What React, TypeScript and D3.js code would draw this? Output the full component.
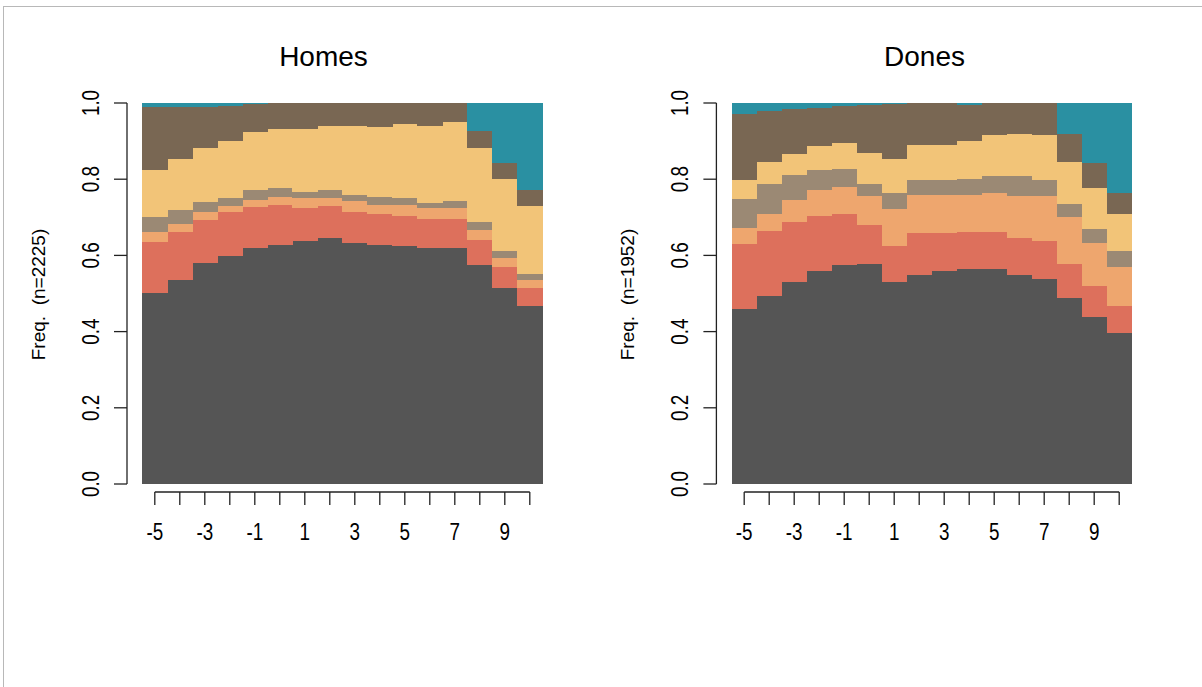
import React from "react";
import * as d3 from "d3";

// Time positions along the sequence (x axis)
const timePoints = [-5, -4, -3, -2, -1, 0, 1, 2, 3, 4, 5, 6, 7, 8, 9, 10];

// State order, bottom to top of every stacked column
const stateKeys = ["s1", "s2", "s3", "s4", "s5", "s6", "s7"];
const stateColors = ["#555555", "#DD705C", "#EEA66E", "#9B8974", "#F2C478", "#796753", "#2A90A2"];

// Homes (n = 2225): state proportions per time point
const homesS1 = [0.502, 0.535, 0.581, 0.599, 0.619, 0.628, 0.637, 0.646, 0.632, 0.628, 0.624, 0.619, 0.619, 0.574, 0.514, 0.468];
const homesS2 = [0.134, 0.126, 0.111, 0.114, 0.107, 0.105, 0.088, 0.084, 0.081, 0.081, 0.080, 0.077, 0.077, 0.066, 0.055, 0.046];
const homesS3 = [0.025, 0.021, 0.021, 0.016, 0.020, 0.021, 0.025, 0.021, 0.029, 0.024, 0.029, 0.029, 0.029, 0.027, 0.025, 0.021];
const homesS4 = [0.039, 0.036, 0.028, 0.022, 0.026, 0.022, 0.017, 0.021, 0.017, 0.021, 0.018, 0.013, 0.017, 0.021, 0.017, 0.017];
const homesS5 = [0.123, 0.134, 0.140, 0.148, 0.151, 0.156, 0.165, 0.168, 0.181, 0.182, 0.194, 0.202, 0.207, 0.193, 0.190, 0.178];
const homesS6 = [0.166, 0.138, 0.109, 0.094, 0.074, 0.068, 0.068, 0.060, 0.060, 0.064, 0.055, 0.060, 0.051, 0.046, 0.042, 0.042];
const homesS7 = [0.011, 0.010, 0.010, 0.007, 0.003, 0, 0, 0, 0, 0, 0, 0, 0, 0.073, 0.157, 0.228];

// Dones (n = 1952): state proportions per time point
const donesS1 = [0.459, 0.493, 0.530, 0.560, 0.574, 0.577, 0.531, 0.548, 0.560, 0.564, 0.564, 0.548, 0.539, 0.489, 0.438, 0.396];
const donesS2 = [0.170, 0.170, 0.158, 0.144, 0.135, 0.102, 0.094, 0.110, 0.098, 0.098, 0.098, 0.098, 0.098, 0.088, 0.081, 0.072];
const donesS3 = [0.042, 0.045, 0.058, 0.068, 0.071, 0.076, 0.096, 0.101, 0.101, 0.097, 0.101, 0.109, 0.118, 0.123, 0.114, 0.101];
const donesS4 = [0.077, 0.080, 0.064, 0.051, 0.047, 0.033, 0.042, 0.038, 0.038, 0.042, 0.046, 0.054, 0.042, 0.034, 0.037, 0.043];
const donesS5 = [0.050, 0.056, 0.055, 0.063, 0.067, 0.082, 0.089, 0.093, 0.093, 0.098, 0.106, 0.110, 0.118, 0.110, 0.106, 0.097];
const donesS6 = [0.173, 0.134, 0.118, 0.101, 0.098, 0.124, 0.145, 0.110, 0.110, 0.097, 0.085, 0.081, 0.085, 0.075, 0.067, 0.054];
const donesS7 = [0.029, 0.022, 0.017, 0.013, 0.008, 0.006, 0.003, 0, 0, 0.004, 0, 0, 0, 0.081, 0.157, 0.237];

const yTicks = [0, 0.2, 0.4, 0.6, 0.8, 1.0];
const xTickLabels = [-5, -3, -1, 1, 3, 5, 7, 9];

const panels = [
  { title: "Homes", n: 2225, series: [homesS1, homesS2, homesS3, homesS4, homesS5, homesS6, homesS7], left: 142.3, titleX: 323.5 },
  { title: "Dones", n: 1952, series: [donesS1, donesS2, donesS3, donesS4, donesS5, donesS6, donesS7], left: 731.7, titleX: 924.5 },
];

const FONT = "'Liberation Sans', Arial, sans-serif";
const TOP = 103;
const BOTTOM = 484;
const PLOT_W = 400;

function Panel({ panel }: { panel: (typeof panels)[number] }) {
  const rows = timePoints.map((t, i) => {
    const row: Record<string, number> = { t };
    stateKeys.forEach((k, j) => (row[k] = panel.series[j][i]));
    return row;
  });
  const stacked = d3.stack<Record<string, number>>().keys(stateKeys)(rows);

  const x = d3
    .scaleBand<number>()
    .domain(timePoints)
    .range([panel.left, panel.left + PLOT_W])
    .paddingInner(0)
    .paddingOuter(0);
  const y = d3.scaleLinear().domain([0, 1]).range([BOTTOM, TOP]);

  const axisX = panel.left - 15.3;
  const axisY = 492;
  const centers = timePoints.map((t) => (x(t) as number) + x.bandwidth() / 2);

  return (
    <g>
      <text x={panel.titleX} y={66} textAnchor="middle" fontFamily={FONT} fontSize={28} fill="#000">
        {panel.title}
      </text>

      {stacked.map((layer, li) => (
        <g key={stateKeys[li]} fill={stateColors[li]}>
          {layer.map((d, i) => {
            const h = y(d[0]) - y(d[1]);
            if (h <= 0) return null;
            return (
              <rect
                key={i}
                x={x(timePoints[i]) as number}
                y={y(d[1])}
                width={x.bandwidth() + 0.3}
                height={h}
                shapeRendering="crispEdges"
              />
            );
          })}
        </g>
      ))}

      {/* y axis */}
      <g stroke="#222" strokeWidth={1.3} fill="none">
        <line x1={axisX} x2={axisX} y1={y(0)} y2={y(1)} />
        {yTicks.map((v) => (
          <line key={v} x1={axisX} x2={axisX - 13} y1={y(v)} y2={y(v)} />
        ))}
      </g>
      {yTicks.map((v) => (
        <text
          key={v}
          transform={`translate(${axisX - 28.5},${y(v)}) rotate(-90) scale(0.82,1)`}
          textAnchor="middle"
          fontFamily={FONT}
          fontSize={23}
          fill="#000"
        >
          {d3.format(".1f")(v)}
        </text>
      ))}
      <text
        transform={`translate(${axisX - 82},${(TOP + BOTTOM) / 2 + 1}) rotate(-90)`}
        textAnchor="middle"
        fontFamily={FONT}
        fontSize={19}
        fill="#000"
        style={{ whiteSpace: "pre" }}
      >
        {`Freq.  (n=${panel.n})`}
      </text>

      {/* x axis */}
      <g stroke="#222" strokeWidth={1.3} fill="none">
        <line x1={centers[0]} x2={centers[centers.length - 1]} y1={axisY} y2={axisY} />
        {centers.map((c, i) => (
          <line key={i} x1={c} x2={c} y1={axisY} y2={axisY + 13} />
        ))}
      </g>
      {xTickLabels.map((t) => (
        <text
          key={t}
          transform={`translate(${(x(t) as number) + x.bandwidth() / 2},539.5) scale(0.82,1)`}
          textAnchor="middle"
          fontFamily={FONT}
          fontSize={23}
          fill="#000"
        >
          {t}
        </text>
      ))}
    </g>
  );
}

export default function App() {
  return (
    <svg
      width={1202}
      height={687}
      style={{ position: "absolute", left: 0, top: 0, background: "#fff" }}
    >
      <rect x={0} y={0} width={1202} height={687} fill="#fff" />
      <rect x={3.5} y={6.5} width={1300} height={800} fill="none" stroke="#b8b8b8" strokeWidth={1} />
      {panels.map((p) => (
        <Panel key={p.title} panel={p} />
      ))}
    </svg>
  );
}
